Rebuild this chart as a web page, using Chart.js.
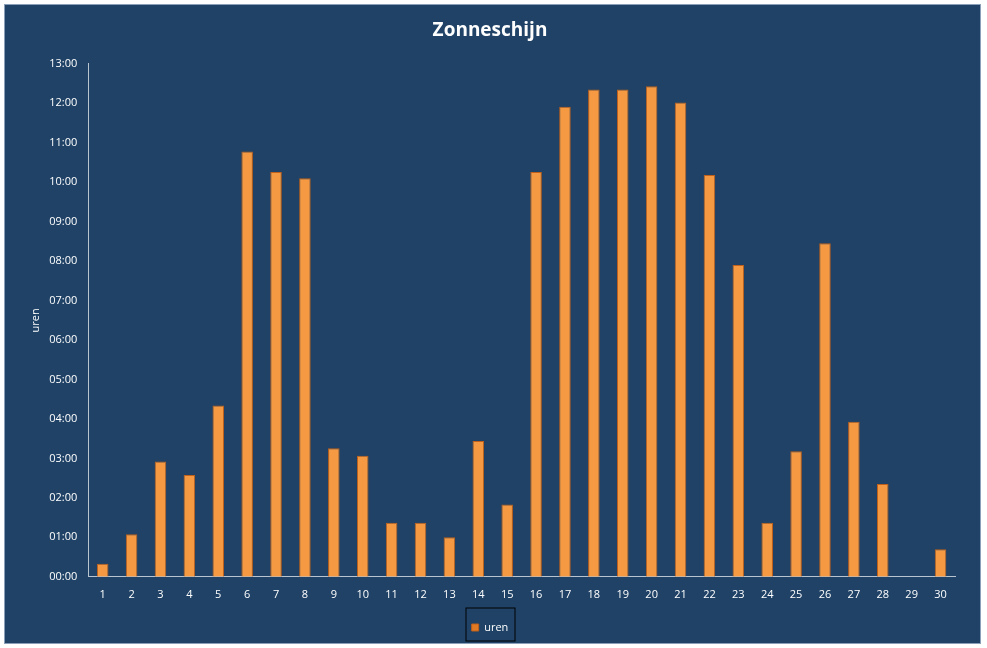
<!DOCTYPE html>
<html><head><meta charset="utf-8">
<script src="https://cdn.jsdelivr.net/npm/chart.js@4/dist/chart.umd.min.js"></script>
<style>html,body{margin:0;padding:0;background:#fff;}
#wrap{position:absolute;left:4px;top:4px;width:977px;height:640px;background:#1f4266;border:1px solid #8aa0b8;box-sizing:border-box;}
</style></head><body>
<div id="wrap"><canvas id="c" width="975" height="638"></canvas></div>
<script>
const categories = ['1','2','3','4','5','6','7','8','9','10','11','12','13','14','15','16','17','18','19','20','21','22','23','24','25','26','27','28','29','30'];
const uren = [0.33,1.08,2.92,2.58,4.34,10.78,10.26,10.1,3.26,3.07,1.37,1.37,1.0,3.44,1.83,10.26,11.91,12.35,12.35,12.43,12.02,10.18,7.9,1.37,3.18,8.45,3.93,2.35,0,0.7];
const yTicks = [0,1,2,3,4,5,6,7,8,9,10,11,12,13];
const fmt = v => (v<10?'0':'')+v+':00';
const ctx = document.getElementById('c').getContext('2d');
new Chart(ctx,{
  type:'bar',
  data:{labels:categories,datasets:[{label:'uren',data:uren,
    backgroundColor:(c)=>{
      const el=c.element; if(!el) return '#f59a42';
      const x=el.x, w=el.width;
      if(!isFinite(x)||!isFinite(w)||w<=0) return '#f59a42';
      const g=c.chart.ctx.createLinearGradient(x-w/2,0,x+w/2,0);
      g.addColorStop(0,'#d9701c');g.addColorStop(0.45,'#ffb36a');g.addColorStop(1,'#e07a25');return g;},
    borderColor:'#c0601a',borderWidth:1,barPercentage:0.4,categoryPercentage:1}]},
  options:{responsive:false,animation:false,
    layout:{padding:{left:20,right:25,top:0,bottom:0}},
    plugins:{
      title:{display:true,text:'Zonneschijn',color:'#fff',font:{family:'Open Sans',size:19,weight:'bold'},padding:{top:14,bottom:22}},
      legend:{position:'bottom',labels:{color:'#fff',font:{family:'Open Sans',size:11},boxWidth:7,boxHeight:7,padding:18}},
      tooltip:{enabled:false}},
    scales:{
      x:{grid:{display:false},border:{color:'#b8c4d0'},ticks:{color:'#fff',font:{family:'Open Sans',size:11}}},
      y:{min:0,max:13,afterBuildTicks:a=>{a.ticks=yTicks.map(v=>({value:v}));},
        grid:{display:false},border:{color:'#b8c4d0'},
        ticks:{color:'#fff',font:{family:'Open Sans',size:11},callback:v=>fmt(v)},
        title:{display:true,text:'uren',color:'#fff',font:{family:'Open Sans',size:11}}}
    }},
  plugins:[{id:'lb',afterDraw(ch){const l=ch.legend;if(!l)return;const c=ch.ctx;c.save();c.strokeStyle='#000';c.lineWidth=1;
    c.strokeRect(l.left+l.width/2-24,l.top+4,49,l.height-6);c.restore();}}]
});
</script></body></html>
